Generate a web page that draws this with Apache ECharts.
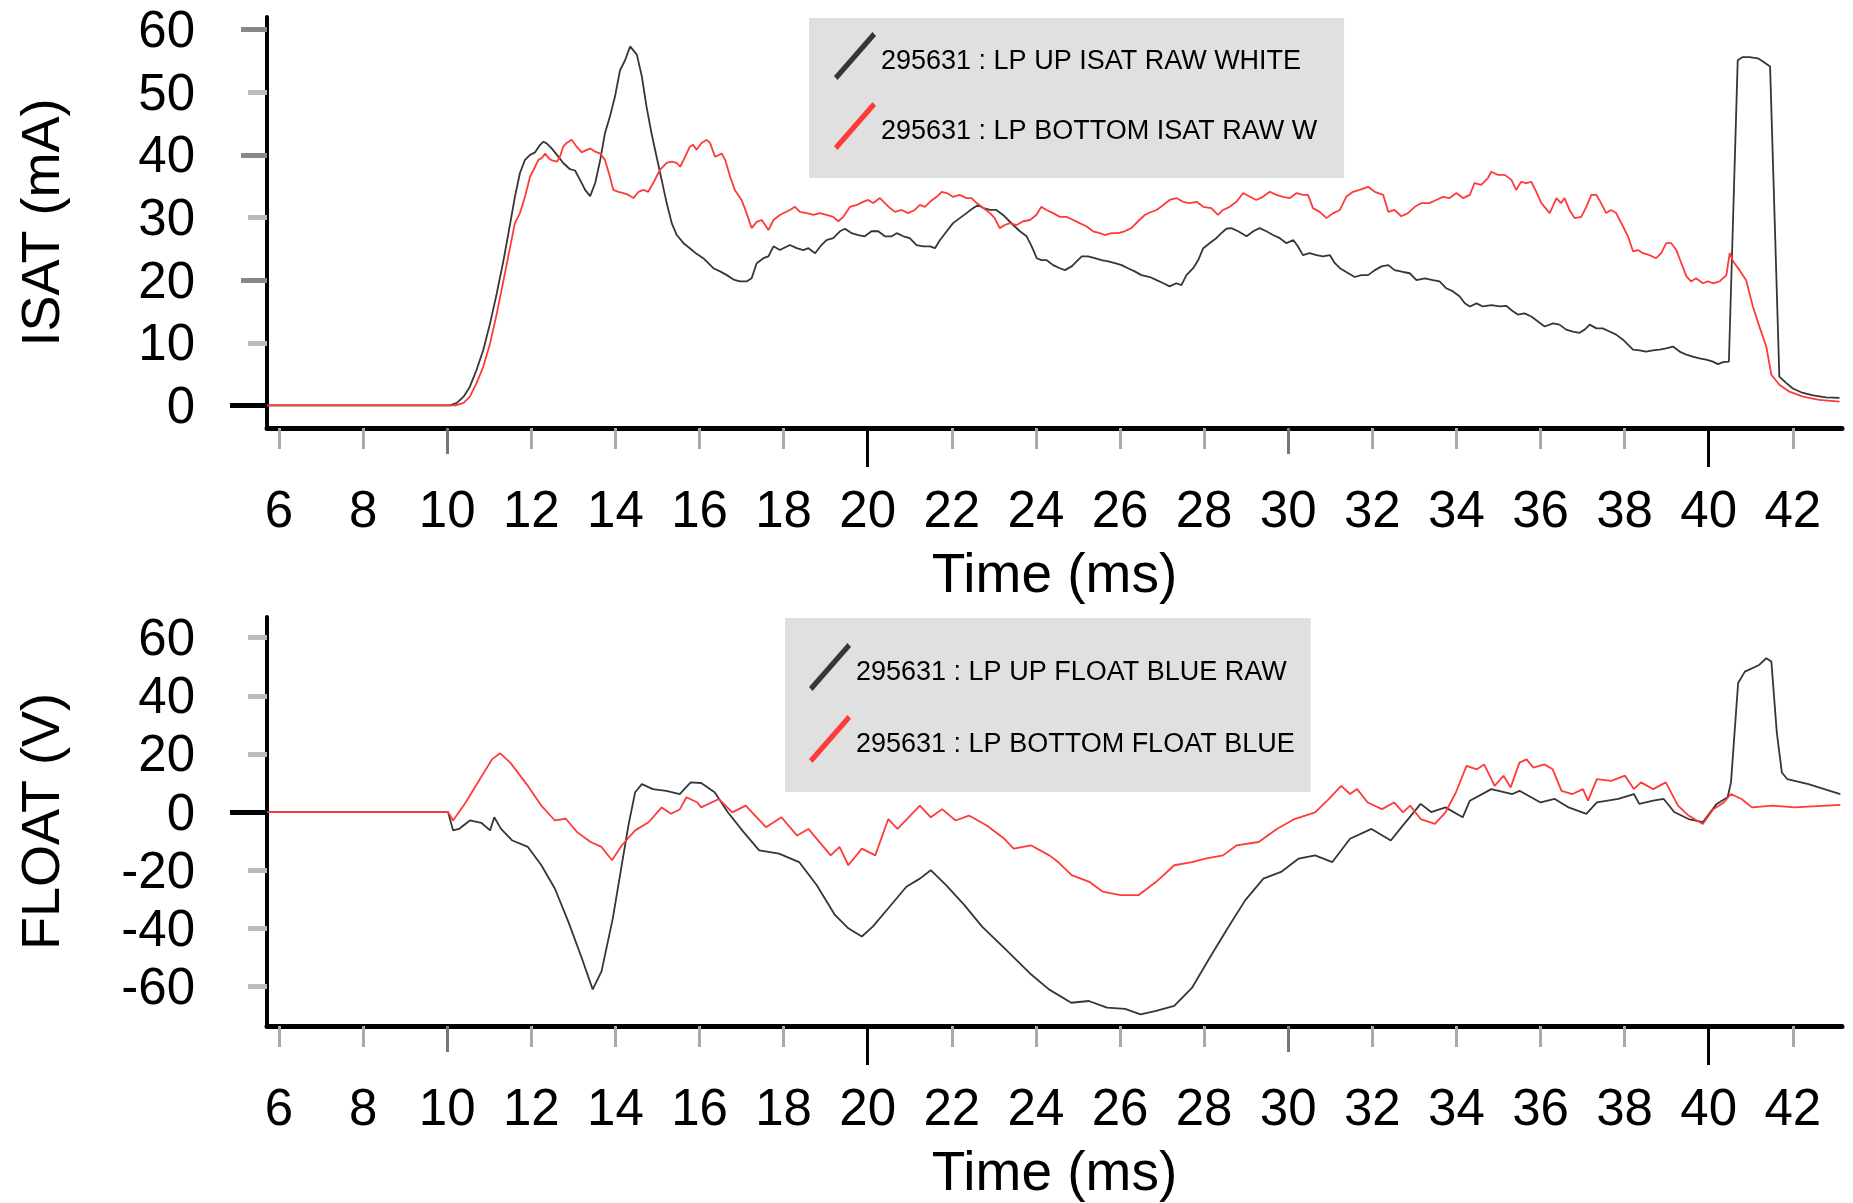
<!DOCTYPE html>
<html>
<head>
<meta charset="utf-8">
<script src="https://cdn.jsdelivr.net/npm/echarts@6/dist/echarts.min.js"></script>
<style>
  html, body { margin: 0; padding: 0; background: #ffffff; }
  #chart { width: 1853px; height: 1203px; }
</style>
</head>
<body>
<div id="chart"></div>
<script>
// Shot 295631 Langmuir probe traces, [time (ms), value]
const isatUp = [[5.72,0],[10.07,0],[10.23,0.4],[10.39,1.4],[10.54,3.0],[10.70,5.7],[10.86,8.9],[11.02,13.1],[11.18,17.9],[11.34,23.2],[11.50,29.1],[11.61,33.3],[11.73,37.1],[11.85,39.2],[11.97,40.0],[12.09,40.4],[12.21,41.6],[12.29,42.1],[12.37,41.8],[12.49,41.0],[12.61,40.0],[12.76,38.7],[12.92,37.7],[13.04,37.5],[13.16,36.0],[13.28,34.4],[13.40,33.4],[13.52,35.5],[13.64,39.2],[13.75,43.4],[13.87,46.1],[13.99,49.3],[14.11,53.5],[14.23,55.1],[14.35,57.3],[14.39,57.5],[14.51,56.0],[14.63,52.5],[14.74,47.7],[14.86,43.4],[14.98,39.7],[15.10,36.0],[15.22,32.3],[15.34,29.1],[15.46,27.2],[15.62,25.9],[15.77,25.1],[15.93,24.2],[16.09,23.5],[16.21,22.7],[16.33,21.9],[16.49,21.4],[16.65,20.8],[16.81,20.1],[16.96,19.8],[17.12,19.8],[17.24,20.3],[17.36,22.7],[17.52,23.5],[17.64,23.8],[17.76,25.4],[17.91,24.8],[18.15,25.6],[18.31,25.1],[18.47,24.8],[18.59,25.1],[18.75,24.3],[18.90,25.6],[19.02,26.4],[19.18,26.7],[19.34,27.8],[19.46,28.2],[19.62,27.5],[19.78,27.2],[19.93,27.0],[20.09,27.8],[20.25,27.8],[20.41,27.0],[20.57,27.0],[20.69,27.5],[20.85,27.0],[21.00,26.7],[21.16,25.6],[21.32,25.4],[21.48,25.4],[21.60,25.1],[21.72,26.4],[21.88,27.8],[22.03,29.1],[22.19,29.9],[22.35,30.7],[22.51,31.5],[22.63,32.0],[22.75,31.5],[22.91,31.2],[23.06,31.2],[23.22,30.4],[23.34,29.6],[23.46,28.8],[23.62,27.8],[23.78,27.0],[23.90,25.4],[24.02,23.5],[24.13,23.2],[24.25,23.2],[24.41,22.4],[24.57,21.9],[24.69,21.6],[24.85,22.2],[24.97,23.0],[25.09,23.8],[25.24,23.8],[25.40,23.5],[25.56,23.2],[25.72,23.0],[25.88,22.7],[26.04,22.4],[26.19,21.9],[26.35,21.4],[26.51,20.8],[26.71,20.5],[26.87,20.0],[27.03,19.5],[27.18,19.0],[27.34,19.5],[27.46,19.2],[27.58,20.8],[27.74,21.9],[27.86,23.2],[27.98,25.1],[28.13,25.9],[28.29,26.7],[28.41,27.5],[28.53,28.2],[28.65,28.3],[28.81,27.8],[29.01,27.0],[29.17,27.8],[29.32,28.3],[29.48,27.8],[29.64,27.2],[29.80,26.7],[29.96,25.9],[30.12,26.4],[30.23,25.4],[30.35,24.0],[30.51,24.3],[30.67,24.0],[30.83,23.8],[30.99,24.0],[31.11,22.7],[31.23,21.9],[31.38,21.3],[31.58,20.5],[31.74,20.8],[31.90,20.8],[32.06,21.6],[32.22,22.2],[32.38,22.4],[32.53,21.6],[32.73,21.3],[32.89,21.1],[33.05,20.0],[33.25,20.3],[33.44,20.0],[33.60,19.8],[33.76,18.7],[33.92,18.2],[34.08,17.4],[34.20,16.3],[34.32,15.8],[34.48,16.3],[34.63,15.8],[34.83,16.0],[35.03,15.8],[35.19,15.9],[35.31,15.2],[35.46,14.5],[35.62,14.7],[35.78,14.2],[35.94,13.4],[36.10,12.6],[36.30,13.1],[36.45,12.9],[36.61,12.1],[36.77,11.8],[36.93,11.6],[37.05,12.1],[37.17,12.9],[37.33,12.3],[37.48,12.3],[37.64,11.8],[37.80,11.3],[37.96,10.5],[38.08,9.7],[38.20,8.9],[38.36,8.8],[38.51,8.6],[38.67,8.8],[38.83,8.9],[38.99,9.1],[39.15,9.4],[39.31,8.6],[39.47,8.1],[39.62,7.8],[39.78,7.5],[39.94,7.3],[40.10,7.0],[40.22,6.6],[40.34,6.9],[40.48,7.0],[40.69,55.1],[40.81,55.6],[40.97,55.6],[41.17,55.4],[41.29,54.9],[41.46,54.1],[41.68,4.6],[41.84,3.6],[42.00,2.7],[42.20,2.1],[42.48,1.6],[42.79,1.3],[43.11,1.2]];

const isatBottom = [[5.72,0],[10.2,0],[10.39,0.4],[10.54,1.4],[10.70,3.6],[10.86,6.2],[11.02,9.9],[11.18,14.7],[11.34,20.0],[11.50,25.4],[11.61,29.1],[11.73,30.7],[11.85,33.3],[11.97,36.5],[12.09,38.1],[12.17,39.2],[12.25,39.5],[12.33,40.2],[12.41,39.5],[12.49,39.1],[12.61,38.9],[12.68,39.7],[12.76,41.3],[12.84,41.9],[12.96,42.4],[13.08,41.3],[13.20,40.4],[13.32,40.8],[13.40,41.0],[13.52,40.5],[13.64,40.2],[13.75,39.2],[13.87,36.5],[13.95,34.4],[14.07,34.1],[14.19,33.9],[14.31,33.6],[14.43,33.1],[14.55,34.1],[14.67,34.4],[14.78,34.1],[14.90,35.5],[15.06,37.6],[15.22,38.7],[15.34,38.9],[15.46,38.7],[15.54,38.1],[15.66,39.7],[15.77,41.3],[15.85,41.6],[15.93,40.8],[16.05,41.9],[16.17,42.4],[16.25,41.9],[16.37,39.7],[16.53,40.2],[16.61,39.2],[16.73,36.5],[16.84,34.4],[17.00,32.8],[17.12,30.7],[17.24,28.3],[17.36,29.3],[17.48,29.6],[17.64,28.0],[17.76,29.6],[17.91,30.4],[18.15,31.2],[18.27,31.7],[18.39,30.9],[18.55,30.7],[18.71,30.4],[18.86,30.7],[19.02,30.4],[19.18,30.1],[19.30,29.4],[19.42,30.1],[19.58,31.7],[19.74,32.0],[19.89,32.5],[20.01,32.8],[20.13,32.3],[20.29,33.1],[20.41,32.3],[20.53,31.5],[20.65,30.9],[20.81,31.2],[20.96,30.7],[21.12,31.2],[21.24,32.0],[21.36,31.7],[21.48,32.5],[21.64,33.3],[21.76,34.1],[21.88,33.9],[22.03,33.3],[22.19,33.6],[22.35,33.1],[22.47,33.1],[22.59,32.3],[22.75,31.5],[22.91,30.7],[23.02,29.9],[23.14,28.3],[23.26,28.8],[23.38,29.1],[23.54,28.8],[23.70,29.4],[23.86,29.6],[24.01,30.4],[24.13,31.7],[24.25,31.2],[24.41,30.7],[24.57,30.1],[24.73,30.1],[24.89,29.6],[25.04,29.1],[25.20,28.6],[25.36,27.8],[25.52,27.5],[25.64,27.2],[25.80,27.5],[25.96,27.5],[26.11,27.8],[26.27,28.3],[26.43,29.4],[26.59,30.4],[26.71,30.8],[26.87,31.2],[27.03,32.0],[27.18,32.8],[27.34,33.1],[27.50,32.5],[27.66,32.3],[27.82,32.5],[27.98,31.7],[28.17,31.5],[28.33,30.4],[28.45,31.2],[28.61,31.7],[28.77,32.5],[28.93,33.9],[29.09,33.3],[29.24,32.8],[29.40,33.3],[29.56,34.1],[29.72,33.6],[29.88,33.3],[30.04,33.1],[30.20,33.9],[30.35,33.6],[30.47,33.6],[30.59,31.5],[30.75,30.9],[30.91,29.9],[31.07,30.7],[31.23,31.2],[31.38,33.3],[31.54,34.1],[31.70,34.4],[31.90,34.9],[32.06,34.1],[32.26,33.6],[32.38,30.9],[32.53,31.2],[32.69,30.2],[32.85,30.7],[33.01,31.7],[33.17,32.3],[33.36,32.3],[33.52,32.8],[33.68,33.3],[33.84,33.1],[34.00,33.9],[34.16,33.1],[34.32,33.6],[34.43,35.5],[34.59,35.2],[34.75,36.3],[34.83,37.3],[34.99,36.8],[35.15,36.8],[35.31,36.0],[35.42,34.4],[35.54,35.7],[35.66,35.5],[35.78,35.7],[35.90,34.1],[36.02,32.3],[36.22,30.7],[36.38,33.1],[36.49,32.3],[36.57,33.1],[36.69,31.2],[36.81,29.9],[36.97,30.1],[37.09,31.7],[37.21,33.6],[37.33,33.6],[37.44,32.3],[37.56,30.7],[37.68,31.2],[37.80,30.7],[37.96,28.6],[38.08,27.0],[38.20,24.6],[38.32,24.8],[38.44,24.3],[38.59,24.0],[38.75,23.5],[38.87,24.3],[38.99,25.9],[39.11,25.9],[39.23,24.8],[39.35,22.7],[39.47,20.6],[39.58,19.8],[39.70,20.3],[39.86,19.5],[39.98,19.8],[40.10,19.5],[40.26,19.8],[40.42,20.8],[40.50,24.3],[40.58,23.0],[40.73,21.6],[40.89,20.0],[41.05,15.8],[41.21,12.5],[41.37,9.4],[41.49,4.9],[41.68,3.3],[41.92,2.2],[42.24,1.4],[42.63,0.9],[43.11,0.6]];

const floatUp = [[5.72,0],[10.02,0],[10.14,-6.3],[10.28,-5.8],[10.54,-2.9],[10.81,-3.7],[11.02,-6.3],[11.12,-1.8],[11.28,-5.8],[11.55,-9.8],[11.92,-12.0],[12.24,-18.3],[12.56,-26.3],[12.88,-37.7],[13.2,-50.2],[13.46,-61.0],[13.67,-54.8],[13.94,-36.5],[14.15,-18.3],[14.31,-4.6],[14.47,6.8],[14.63,9.6],[14.89,7.9],[15.21,7.3],[15.53,6.2],[15.79,10.2],[16.04,10.0],[16.36,6.8],[16.67,0],[17.05,-6.9],[17.42,-13.2],[17.89,-14.3],[18.37,-17.2],[18.79,-25.2],[19.22,-35.4],[19.54,-40.0],[19.86,-42.8],[20.12,-39.4],[20.49,-33.1],[20.92,-25.7],[21.24,-22.9],[21.5,-20.0],[21.87,-25.2],[22.3,-32.0],[22.72,-39.4],[23.25,-46.8],[23.89,-55.9],[24.31,-61.0],[24.84,-65.6],[25.26,-65.0],[25.69,-67.3],[26.12,-67.7],[26.49,-69.6],[26.86,-68.4],[27.29,-66.7],[27.71,-60.5],[28.13,-50.2],[28.56,-40.0],[28.98,-30.3],[29.41,-22.9],[29.83,-20.6],[30.25,-16.0],[30.64,-14.9],[31.05,-17.2],[31.47,-9.2],[31.98,-5.8],[32.44,-9.8],[32.73,-4.6],[33.15,2.8],[33.4,0],[33.74,1.6],[34.15,-1.8],[34.32,3.9],[34.83,7.9],[35.33,6.2],[35.5,7.3],[36.0,3.3],[36.34,4.5],[36.67,1.6],[37.09,-0.6],[37.34,3.3],[37.85,4.5],[38.22,6.2],[38.35,2.8],[38.68,3.9],[38.93,4.5],[39.18,0],[39.52,-2.4],[39.86,-3.5],[40.19,2.8],[40.45,5.1],[40.53,10.2],[40.7,44.4],[40.86,48.3],[41.2,50.6],[41.37,52.9],[41.49,51.8],[41.62,27.3],[41.74,13.6],[41.87,11.3],[42.37,9.6],[43.13,6.2]];

const floatBottom = [[5.72,0],[10.02,0],[10.14,-2.9],[10.44,3.3],[10.75,10.7],[11.07,18.2],[11.26,20.2],[11.5,17.0],[11.92,9.0],[12.24,2.2],[12.56,-2.9],[12.82,-2.3],[13.09,-6.9],[13.41,-10.3],[13.67,-12.0],[13.92,-16.6],[14.15,-11.5],[14.47,-6.3],[14.79,-3.5],[15.1,1.6],[15.32,-0.6],[15.53,0.9],[15.69,5.1],[15.95,3.3],[16.04,1.6],[16.46,4.5],[16.78,-0.1],[17.1,2.2],[17.58,-5.2],[17.95,-1.8],[18.32,-8.1],[18.59,-5.8],[19.12,-14.9],[19.33,-12.0],[19.54,-18.3],[19.86,-12.6],[20.18,-14.9],[20.49,-2.4],[20.71,-5.8],[21.24,2.2],[21.5,-1.8],[21.77,1.0],[22.09,-2.9],[22.41,-1.2],[22.83,-4.6],[23.25,-9.2],[23.47,-12.6],[23.89,-11.5],[24.32,-14.9],[24.53,-17.2],[24.85,-21.7],[25.27,-24.0],[25.59,-27.4],[26.01,-28.6],[26.44,-28.6],[26.86,-24.0],[27.29,-18.3],[27.71,-17.2],[28.03,-16.0],[28.45,-14.9],[28.77,-11.5],[29.3,-10.3],[29.73,-5.8],[30.15,-2.4],[30.64,-0.1],[30.97,4.5],[31.26,9.0],[31.47,6.2],[31.64,7.9],[31.89,3.3],[32.23,1.0],[32.52,3.3],[32.73,-0.1],[32.9,2.2],[33.15,-2.4],[33.49,-4.1],[33.74,-0.1],[33.99,6.8],[34.24,15.9],[34.49,14.7],[34.66,16.4],[34.91,9.0],[35.12,12.5],[35.29,8.5],[35.5,17.0],[35.67,18.1],[35.83,15.3],[36.09,16.4],[36.29,14.7],[36.5,7.3],[36.76,6.2],[37.01,7.9],[37.13,3.9],[37.34,11.3],[37.68,10.7],[38.01,12.5],[38.22,7.9],[38.39,10.2],[38.68,7.9],[38.98,10.2],[39.27,2.2],[39.52,-1.2],[39.86,-4.1],[40.11,1.0],[40.36,3.3],[40.53,6.2],[40.78,4.5],[41.03,1.6],[41.53,2.2],[42.04,1.6],[43.13,2.5]];

// Series names as shown in the legends
const isatNames = ['295631 : LP UP ISAT RAW WHITE', '295631 : LP BOTTOM ISAT RAW W'];
const floatNames = ['295631 : LP UP FLOAT BLUE RAW', '295631 : LP BOTTOM FLOAT BLUE'];

// Tick values
const timeLabels = [6, 8, 10, 12, 14, 16, 18, 20, 22, 24, 26, 28, 30, 32, 34, 36, 38, 40, 42];
const timeMinorTicks = [6, 8, 12, 14, 16, 18, 22, 24, 26, 28, 32, 34, 36, 38, 42];
const timeMidTicks = [10, 30];
const timeMajorTicks = [20, 40];
const isatLabels = [0, 10, 20, 30, 40, 50, 60];
const isatMinorTicks = [10, 30, 50];
const isatMidTicks = [20, 40, 60];
const floatLabels = [-60, -40, -20, 0, 20, 40, 60];
const floatMinorTicks = [-60, -40, -20, 20, 40, 60];
const zeroTick = [0];

const FONT = 'Liberation Sans';
const BLACK = '#363636';
const RED = '#ff3a3a';
const SLASH = 'path://M0,44 L44,0 L48,4 L4,48 Z';
const T_MIN = 5.715, T_MAX = 43.17;

const pairs = arr => arr.map(p => [p[0], p[1]]);

function timeAxes(gridIndex) {
  const base = {
    gridIndex, type: 'value', min: T_MIN, max: T_MAX, position: 'bottom',
    splitLine: { show: false }, axisLabel: { show: false }
  };
  return [
    Object.assign({}, base, {
      axisLine: { show: true, onZero: false, lineStyle: { color: '#000', width: 5 } },
      axisTick: { show: true, customValues: timeMinorTicks, length: 21, lineStyle: { color: '#aaaaaa', width: 3 } },
      axisLabel: { show: true, customValues: timeLabels, margin: 59, fontSize: 51, fontFamily: FONT, color: '#000' },
      name: 'Time (ms)', nameLocation: 'middle', nameGap: 121,
      nameTextStyle: { fontSize: 55, fontFamily: FONT, color: '#000' }
    }),
    Object.assign({}, base, {
      axisLine: { show: false, onZero: false },
      axisTick: { show: true, customValues: timeMidTicks, length: 26, lineStyle: { color: '#777777', width: 3 } }
    }),
    Object.assign({}, base, {
      axisLine: { show: false, onZero: false },
      axisTick: { show: true, customValues: timeMajorTicks, length: 39, lineStyle: { color: '#000', width: 3 } }
    })
  ];
}

function valueAxes(gridIndex, min, max, labels, minor, mid, name) {
  const base = {
    gridIndex, type: 'value', min, max, position: 'left',
    splitLine: { show: false }, axisLabel: { show: false }
  };
  const list = [
    Object.assign({}, base, {
      axisLine: { show: true, onZero: false, lineStyle: { color: '#000', width: 4 } },
      axisTick: { show: true, customValues: minor, length: 19, lineStyle: { color: '#bbbbbb', width: 5 } },
      axisLabel: {
        show: true, customValues: labels, margin: 72, color: '#000',
        formatter: v => '{n|' + v + '}',
        rich: { n: { fontSize: 51, fontFamily: FONT, color: '#000', padding: [7, 0, 0, 0] } }
      },
      name, nameLocation: 'middle', nameGap: 196,
      nameTextStyle: { fontSize: 54, fontFamily: FONT, color: '#000' }
    }),
    Object.assign({}, base, {
      axisLine: { show: false, onZero: false },
      axisTick: { show: true, customValues: zeroTick, length: 37, lineStyle: { color: '#000', width: 5 } }
    })
  ];
  if (mid.length) {
    list.push(Object.assign({}, base, {
      axisLine: { show: false, onZero: false },
      axisTick: { show: true, customValues: mid, length: 26, lineStyle: { color: '#888888', width: 5 } }
    }));
  }
  return list;
}

const topY = valueAxes(0, -3.6, 62, isatLabels, isatMinorTicks, isatMidTicks, 'ISAT (mA)');
const botY = valueAxes(1, -73.6, 67.1, floatLabels, floatMinorTicks, [], 'FLOAT (V)');

function trace(name, data, color, xi, yi) {
  return {
    name, type: 'line', data: pairs(data), xAxisIndex: xi, yAxisIndex: yi,
    showSymbol: false, symbol: 'none', color, itemStyle: { color },
    lineStyle: { color, width: 1.8 }, silent: true
  };
}

function legendBox(names, left, top, padding, itemGap) {
  return {
    data: names, orient: 'vertical', left, top, padding, itemGap,
    itemWidth: 42, itemHeight: 48, icon: SLASH, symbolKeepAspect: false,
    backgroundColor: '#e0e0e0', selectedMode: false,
    formatter: name => '{t|' + name + '}',
    textStyle: {
      fontFamily: FONT, fontSize: 27, color: '#000',
      rich: { t: { fontFamily: FONT, fontSize: 27, color: '#000', padding: [12, 0, 0, 0] } }
    }
  };
}

const chart = echarts.init(document.getElementById('chart'), null, { renderer: 'canvas' });
chart.setOption({
  animation: false,
  backgroundColor: '#ffffff',
  textStyle: { fontFamily: FONT },
  grid: [
    { left: 267, top: 17, width: 1575, height: 411 },
    { left: 267, top: 617, width: 1575, height: 411 }
  ],
  xAxis: timeAxes(0).concat(timeAxes(1)),
  yAxis: topY.concat(botY),
  legend: [
    legendBox(isatNames, 809, 18, [14, 27, 28, 25], 22),
    legendBox(floatNames, 785, 618, [25, 16, 29, 24], 24)
  ],
  series: [
    trace(isatNames[0], isatUp, BLACK, 0, 0),
    trace(isatNames[1], isatBottom, RED, 0, 0),
    trace(floatNames[0], floatUp, BLACK, 3, topY.length),
    trace(floatNames[1], floatBottom, RED, 3, topY.length)
  ]
});
</script>
</body>
</html>
